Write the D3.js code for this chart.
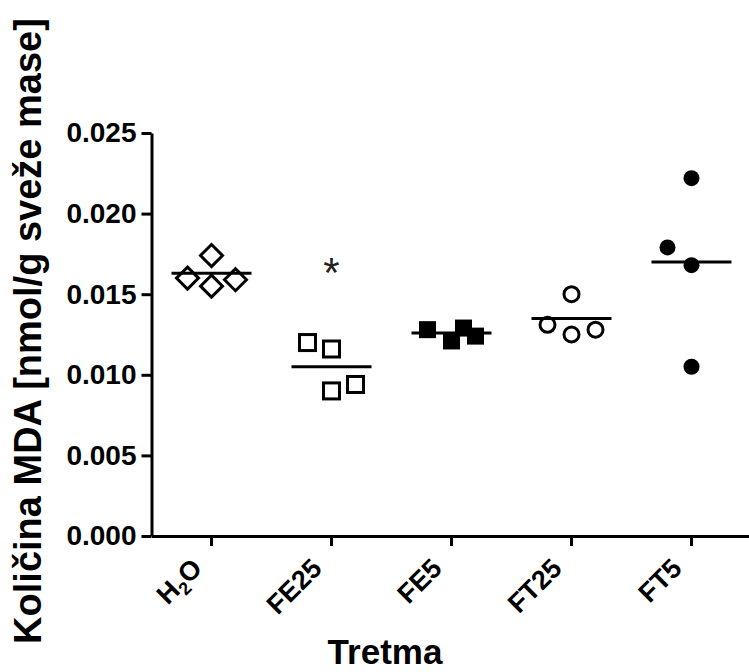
<!DOCTYPE html>
<html><head><meta charset="utf-8">
<script src="https://cdn.jsdelivr.net/npm/d3@7/dist/d3.min.js"></script>
<style>
html,body{margin:0;padding:0;background:#fff;}
svg{display:block;font-family:Arial,"Liberation Sans",sans-serif;}
</style></head>
<body><svg id="chart" width="749" height="672"></svg>
<script>
// ---- data ----
const categories = ["H2O", "FE25", "FE5", "FT25", "FT5"];
const yTicks = [0.000, 0.005, 0.010, 0.015, 0.020, 0.025];
const h2oValues  = [0.0174, 0.0160, 0.0155, 0.0159];
const fe25Values = [0.0120, 0.0116, 0.0090, 0.0094];
const fe5Values  = [0.0128, 0.0121, 0.0129, 0.0124];
const ft25Values = [0.0150, 0.0131, 0.0125, 0.0128];
const ft5Values  = [0.0222, 0.0179, 0.0168, 0.0105];
// horizontal spread slots of the scatter (GraphPad column spread)
const h2oSlots  = [0, -1, 0, 1];
const fe25Slots = [-1, 0, 0, 1];
const fe5Slots  = [-1, 0, 0.5, 1];
const ft25Slots = [0, -1, 0, 1];
const ft5Slots  = [0, -1, 0, 0];
const lineValues = [0.0163, 0.0105, 0.0126, 0.0135, 0.0170];
const markers = ["diamondOpen", "squareOpen", "squareFilled", "circleOpen", "circleFilled"];
const significance = ["", "*", "", "", ""];
const significanceValues = [null, 0.0170, null, null, null];
const yTitle = "Količina MDA [nmol/g sveže mase]";
const xTitle = "Tretma";

const seriesValues = [h2oValues, fe25Values, fe5Values, ft25Values, ft5Values];
const seriesSlots = [h2oSlots, fe25Slots, fe5Slots, ft25Slots, ft5Slots];

// ---- layout ----
const svg = d3.select("#chart");
const axisX = 151.5, axisY = 536, topY = 133, rightX = 751.5;
const y = d3.scaleLinear().domain([0, 0.025]).range([axisY, topY]);
const x = d3.scaleBand().domain(categories).range([axisX, rightX]);
const cx = c => x(c) + x.bandwidth() / 2;
const slotW = x.bandwidth() * 0.2;
const FONT = "Arial, 'Liberation Sans', sans-serif";

// y axis
const gy = svg.append("g").attr("transform", `translate(${axisX},0)`)
  .call(d3.axisLeft(y).tickValues(yTicks).tickFormat(d3.format(".3f")).tickSize(10).tickSizeOuter(0));
gy.select(".domain").attr("stroke", "#000").attr("stroke-width", 3);
gy.selectAll(".tick line").attr("stroke", "#000").attr("stroke-width", 3);
gy.selectAll(".tick text").attr("font-size", 28).attr("font-weight", "bold")
  .attr("font-family", FONT).attr("fill", "#000").attr("x", -15);

// x axis
const gx = svg.append("g").attr("transform", `translate(0,${axisY})`)
  .call(d3.axisBottom(x).tickSize(10).tickSizeOuter(0));
gx.select(".domain").attr("stroke", "#000").attr("stroke-width", 3);
gx.selectAll(".tick line").attr("stroke", "#000").attr("stroke-width", 3);
gx.selectAll(".tick text").remove();
gx.selectAll(".tick").each(function(d) {
  const t = d3.select(this).append("text")
    .attr("font-size", 27).attr("font-weight", "bold").attr("fill", "#000")
    .attr("font-family", FONT)
    .attr("text-anchor", "end")
    .attr("transform", "translate(-8,34) rotate(-45)");
  if (d === "H2O") {
    t.append("tspan").text("H");
    t.append("tspan").text("2").attr("font-size", 18).attr("dy", 6);
    t.append("tspan").text("O").attr("dy", -6);
  } else {
    t.text(d);
  }
});

// data points
const plot = svg.append("g");
const sz = { diamondOpen: 11, squareOpen: 8, squareFilled: 8.5, circleOpen: 7.5, circleFilled: 8 };
categories.forEach((c, i) => {
  const vals = seriesValues[i], slots = seriesSlots[i], m = markers[i];
  const g = plot.append("g");
  vals.forEach((v, j) => {
    const px = cx(c) + slots[j] * slotW, py = y(v);
    const filled = m.endsWith("Filled");
    let el;
    if (m.startsWith("diamond")) {
      const r = sz[m];
      el = g.append("path").attr("d", `M${px},${py - r}L${px + r},${py}L${px},${py + r}L${px - r},${py}Z`);
    } else if (m.startsWith("square")) {
      const r = sz[m];
      el = g.append("rect").attr("x", px - r).attr("y", py - r).attr("width", 2 * r).attr("height", 2 * r);
    } else {
      el = g.append("circle").attr("cx", px).attr("cy", py).attr("r", sz[m]);
    }
    if (filled) el.attr("fill", "#000").attr("stroke", "none");
    else el.attr("fill", "none").attr("stroke", "#000").attr("stroke-width", 3);
  });
  // mean line
  plot.append("line")
    .attr("x1", cx(c) - x.bandwidth() / 3).attr("x2", cx(c) + x.bandwidth() / 3)
    .attr("y1", y(lineValues[i])).attr("y2", y(lineValues[i]))
    .attr("stroke", "#000").attr("stroke-width", 3);
  if (significance[i]) {
    plot.append("text").attr("x", cx(c)).attr("y", y(significanceValues[i]))
      .attr("dy", "0.6em").attr("text-anchor", "middle")
      .attr("font-size", 42).attr("fill", "#222")
      .attr("font-family", FONT)
      .text(significance[i]);
  }
});

// titles
svg.append("text").attr("transform", `translate(41,331) rotate(-90)`)
  .attr("text-anchor", "middle").attr("font-size", 38).attr("font-weight", "bold")
  .attr("font-family", FONT).attr("fill", "#000")
  .text(yTitle);
svg.append("text").attr("x", 385).attr("y", 664)
  .attr("text-anchor", "middle").attr("font-size", 35).attr("font-weight", "bold")
  .attr("font-family", FONT).attr("fill", "#000")
  .text(xTitle);
</script></body></html>
